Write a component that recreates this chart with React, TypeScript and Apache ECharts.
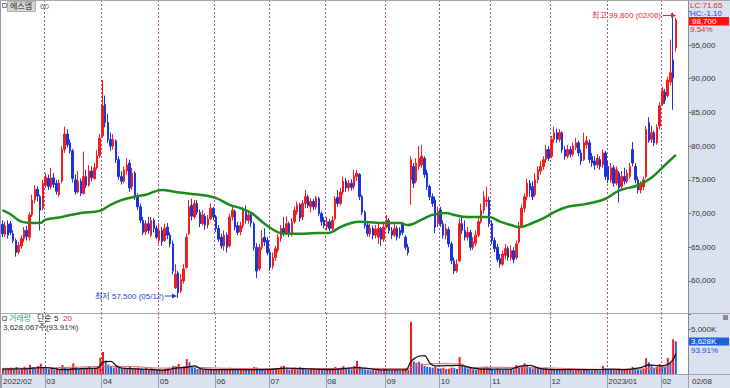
import React, { useEffect, useRef } from "react";
import * as echarts from "echarts";

// ---------- DATA ----------
const monthLabels = ["2022/02", "03", "04", "05", "06", "07", "08", "09", "10", "11", "12", "2023/01", "02"];
const monthDays = [16, 21, 21, 21, 20, 21, 22, 20, 19, 22, 21, 20, 6];
const extraSlots = 4;

// rows: [open, close, low, high] (won)
const feb22 = [
  [68400, 67000, 66500, 69000], [66900, 68200, 66500, 68800], [68400, 66800, 66300, 69000], [68500, 67200, 66800, 68900],
  [67000, 66000, 65600, 67500], [66000, 64200, 63600, 66300], [64300, 65300, 64000, 65800], [65200, 66300, 64800, 66800],
  [66300, 67500, 65800, 68000], [67500, 66600, 66000, 68200], [66500, 69800, 66000, 70200], [69800, 72000, 69500, 72800],
  [72000, 73600, 71500, 74200], [73600, 72600, 71800, 74000], [72500, 70500, 67500, 72800], [70800, 74500, 70500, 75000],
];
const mar22 = [
  [74200, 75400, 73800, 76000], [75200, 74000, 73500, 75800], [74000, 75300, 73600, 76800], [75300, 74300, 73800, 76000],
  [74500, 73300, 72800, 75000], [72800, 74500, 72500, 75000], [74800, 79500, 74500, 80000], [79500, 81800, 79000, 82900],
  [81800, 80200, 79800, 82500], [80500, 79300, 78900, 81000], [79300, 75200, 74600, 79600], [75000, 73200, 72800, 75800],
  [73200, 74800, 73000, 76300], [74800, 73000, 72600, 75200], [73000, 75500, 72800, 79200], [75500, 74200, 73800, 76500],
  [74200, 76300, 74000, 77200], [76300, 75300, 74800, 77000], [75200, 76800, 75000, 77500], [76800, 78600, 76500, 79400],
  [78600, 81200, 78200, 81800],
];
const apr22 = [
  [81500, 86000, 81200, 89800], [86200, 83500, 82800, 87500], [83500, 81000, 80500, 84800], [81000, 80000, 79300, 82000],
  [80000, 81000, 79500, 81800], [80800, 78000, 77500, 81000], [78000, 75500, 75000, 78500], [75500, 74800, 74300, 76300],
  [74800, 76500, 74500, 77000], [76300, 77200, 75800, 78200], [77500, 73800, 73200, 78000], [74000, 76000, 73500, 76800],
  [76000, 72500, 72000, 76300], [72500, 71000, 70500, 73000], [71000, 69000, 68600, 71500], [69000, 67200, 66800, 69500],
  [67300, 68500, 66800, 69000], [68500, 67500, 67000, 69500], [66800, 69000, 66500, 69500], [69000, 67800, 67200, 69300],
  [67800, 66500, 66200, 68200],
];
const may22 = [
  [66000, 67500, 65600, 68600], [67500, 65800, 65200, 68000], [66000, 67800, 65800, 68500], [68000, 66800, 66200, 68600],
  [66800, 65500, 65000, 67200], [65500, 61500, 61000, 66000], [59000, 61000, 58800, 62500], [61200, 58300, 57500, 61500],
  [58500, 60200, 58200, 61000], [60000, 61800, 59600, 62500], [62000, 66500, 61800, 67000], [67000, 71000, 66800, 72000],
  [71200, 69600, 69000, 72200], [69500, 71500, 69200, 72000], [71500, 70200, 69800, 72000], [70200, 68500, 68000, 70600],
  [68500, 69800, 68200, 70500], [69600, 68300, 67600, 70000], [68300, 69200, 67800, 69800], [69200, 70800, 69000, 71500],
  [70800, 69500, 69000, 71000],
];
const jun22 = [
  [69500, 67800, 67300, 69800], [67800, 66200, 65800, 68300], [66500, 65200, 64800, 67000], [65200, 66800, 64500, 67500],
  [66800, 65000, 64200, 67200], [65200, 69500, 65000, 70000], [69500, 70500, 69000, 71200], [70300, 68000, 67500, 70600],
  [68200, 67200, 66800, 68800], [67300, 68200, 66800, 68800], [68200, 70500, 67800, 71000], [70500, 69000, 68500, 71200],
  [69000, 69800, 68500, 70500], [69800, 68600, 68000, 70200], [68500, 65000, 64500, 68800], [65000, 61500, 60400, 65600],
  [61800, 65000, 61500, 65500], [65000, 66300, 64600, 67500], [66500, 65800, 65200, 67800], [66000, 64200, 63800, 66500],
];
const jul22 = [
  [64200, 62000, 61500, 64600], [62200, 63500, 61800, 64200], [63500, 64800, 63000, 65200], [64600, 66500, 64200, 67000],
  [66300, 67800, 65800, 68300], [67800, 67000, 66600, 69500], [67000, 68500, 66800, 69600], [68500, 67000, 66500, 68800],
  [67000, 68800, 66600, 69300], [68800, 70500, 68500, 71000], [70200, 71300, 69800, 71800], [71300, 69300, 68800, 71600],
  [69500, 71500, 69000, 72000], [71500, 72500, 70800, 73500], [72500, 71200, 70800, 72800], [71000, 71800, 70200, 72300],
  [71800, 71000, 70500, 72200], [71000, 72300, 70600, 72600], [72200, 70000, 69600, 72500], [70000, 68800, 68200, 70300],
  [69000, 68200, 67800, 69500],
];
const aug22 = [
  [68000, 68800, 67500, 69500], [68800, 67800, 67400, 69200], [67800, 69000, 67500, 69600], [69200, 72200, 69000, 72600],
  [72400, 71500, 71000, 73500], [71500, 73200, 71200, 73800], [73200, 74800, 72800, 75500], [74800, 73800, 73200, 75300],
  [73800, 74500, 73300, 75000], [74500, 73900, 73400, 75100], [74000, 75600, 73600, 76500], [75500, 76000, 74800, 76500],
  [75800, 72500, 72000, 76000], [72500, 70200, 69800, 72800], [70200, 68200, 67800, 70500], [68300, 67000, 66600, 68600],
  [67000, 67800, 66500, 68500], [67800, 66800, 66200, 68200], [66800, 67700, 66300, 68300], [66500, 67800, 65500, 68500],
  [67800, 66200, 65200, 68000], [66200, 68000, 65800, 68800],
];
const sep22 = [
  [68000, 69000, 67800, 69800], [69000, 67500, 67000, 69300], [67500, 66800, 66200, 68000], [66800, 67800, 66500, 68500],
  [67800, 66500, 66000, 68200], [67500, 66800, 66300, 68000], [68500, 67200, 66800, 68800], [66500, 65000, 64600, 66800],
  [65000, 64200, 63800, 65500], [75000, 78000, 71300, 78500], [77000, 74500, 73800, 77500], [74800, 77500, 74500, 78200],
  [77000, 78200, 76500, 80000], [77200, 78500, 76800, 80200], [78200, 75800, 75300, 78500], [76000, 74000, 73500, 76500],
  [74000, 72500, 72000, 74300], [72500, 71500, 71000, 73000], [72000, 68000, 67100, 72500], [68500, 70300, 68000, 71000],
];
const oct22 = [
  [70500, 68500, 68000, 71000], [68500, 66800, 66300, 69000], [66800, 67800, 66200, 68500], [67600, 65500, 65000, 68000],
  [65500, 63000, 62500, 65800], [63000, 61500, 61000, 63500], [61500, 62500, 61200, 63200], [63000, 68500, 62800, 69300],
  [68500, 67500, 67000, 69500], [67500, 66500, 66000, 69000], [66500, 67200, 66000, 68000], [67200, 65000, 64500, 67600],
  [65000, 65800, 64600, 66500], [65600, 66800, 65200, 67500], [66800, 68800, 66500, 69500], [68800, 70500, 68500, 71500],
  [70500, 72500, 70000, 73300], [71800, 72000, 71000, 74000], [72000, 68500, 68000, 72500],
];
const nov22 = [
  [68500, 66000, 65500, 69000], [66000, 64800, 64300, 66500], [65000, 63200, 62800, 65500], [63300, 62500, 62000, 64000],
  [62500, 64000, 62200, 64500], [63800, 64800, 63200, 65500], [64800, 63500, 63000, 65200], [63500, 64500, 63000, 65300],
  [64500, 63200, 62600, 65000], [63500, 65500, 63200, 66000], [65800, 68000, 65500, 68800], [68000, 70800, 67800, 71300],
  [70800, 72500, 70200, 73000], [72500, 74500, 72000, 75200], [74500, 73500, 72500, 75000], [74000, 72500, 72000, 74800],
  [72800, 75000, 72500, 76000], [75000, 76500, 74500, 77000], [76300, 77000, 75800, 77800], [77000, 78000, 76500, 78500],
  [78000, 79500, 77500, 80200], [79500, 78200, 77800, 80000],
];
const dec22 = [
  [78500, 81000, 78200, 81500], [81000, 82000, 80500, 82900], [82000, 81000, 80500, 82600], [81000, 82000, 80600, 82500],
  [82000, 79500, 79000, 82200], [79500, 78500, 78000, 80000], [78500, 79500, 78200, 80200], [79500, 78800, 78300, 80000],
  [78800, 80000, 78500, 80500], [79800, 80500, 79400, 81200], [80500, 79000, 78500, 80800], [79000, 77800, 77200, 79500],
  [78000, 80500, 77800, 82000], [80200, 80800, 79600, 81500], [80500, 78000, 77500, 81000], [78500, 77500, 76900, 79000],
  [77800, 77200, 76500, 78500], [77200, 78200, 76800, 78800], [78000, 77000, 76500, 78500], [77200, 79000, 76800, 79500],
  [79000, 75500, 75000, 79300],
];
const jan23 = [
  [77000, 75000, 74500, 77800], [75000, 76800, 74600, 77500], [76800, 74500, 74000, 77200], [74500, 76500, 74200, 77000],
  [76000, 73800, 71600, 76300], [74000, 75500, 73500, 76300], [75500, 74800, 74300, 76800], [74800, 76000, 74500, 76500],
  [75500, 77000, 75200, 77500], [79500, 77500, 77000, 80600], [77000, 75000, 74500, 77500], [75000, 73500, 73000, 75500],
  [73500, 74300, 73000, 74800], [74000, 75000, 73500, 75500], [75500, 82500, 75200, 83000], [83500, 80800, 80500, 84300],
  [81000, 82000, 80500, 83000], [82000, 80500, 80000, 82300], [80500, 82800, 80200, 83200], [83000, 86000, 82500, 86500],
];
const feb23 = [
  [86300, 88200, 86000, 88800], [88000, 86800, 86300, 88500], [87500, 89800, 87200, 90300], [89500, 90900, 89000, 95800],
  [92800, 90100, 85400, 99800], [94600, 98700, 94000, 99000],
];

// volume in thousand shares
const volumeK = [
  650, 480, 560, 700, 520, 780, 450, 600, 820, 540, 1000, 760, 640, 880, 1150, 700,
  620, 540, 700, 480, 650, 560, 1000, 720, 580, 640, 1180, 760, 560, 680, 520, 600, 820, 540, 700, 760, 1800,
  2450, 1500, 1050, 880, 720, 900, 650, 580, 700, 620, 800, 560, 650, 720, 600, 540, 680, 500, 620, 560, 480,
  520, 460, 580, 640, 480, 900, 850, 1100, 760, 820, 1650, 1300, 800, 700, 560, 620, 500, 580, 540, 600, 480,
  520, 460, 600, 440, 560, 700, 620, 480, 420, 560, 640, 500, 460, 480, 780, 720, 560, 480, 420, 560,
  600, 420, 520, 650, 850, 900, 560, 480, 620, 700, 540, 760, 680, 520, 480, 560, 600, 440, 520, 480, 420,
  460, 420, 560, 800, 620, 700, 880, 640, 560, 520, 900, 1450, 820, 640, 520, 480, 420, 460, 400, 520, 480, 560,
  520, 440, 400, 460, 420, 380, 440, 520, 480, 5800, 1400, 1250, 1350, 1150, 900, 800, 760, 700, 820, 640,
  620, 700, 560, 600, 720, 680, 560, 1900, 1000, 760, 620, 700, 540, 480, 560, 640, 760, 820, 700,
  560, 480, 600, 520, 460, 540, 480, 560, 500, 1000, 820, 900, 1200, 980, 700, 620, 760, 680, 560, 640, 720, 560,
  620, 560, 480, 440, 520, 460, 400, 440, 380, 420, 460, 400, 560, 480, 420, 380, 440, 400, 360, 900, 640,
  560, 480, 520, 440, 600, 420, 460, 500, 440, 800, 620, 520, 480, 560, 1750, 1300, 880, 700, 820, 1100,
  950, 800, 1800, 1300, 3863, 3628,
];

// 60-day price moving average: [day index, value]
const ma60Points = [
  [0, 70500], [3, 69900], [7, 68800], [11, 68600], [14, 68600], [16, 69100], [22, 69500], [29, 70100], [36, 70400],
  [40, 71300], [44, 72000], [49, 72500], [53, 72800], [59, 73500], [64, 73200], [70, 72900], [73, 72800], [79, 72300],
  [84, 71300], [88, 70800], [92, 70100], [96, 68800], [99, 67900], [103, 67100], [107, 67000], [110, 67000], [116, 67100],
  [120, 67100], [122, 67300], [125, 68000], [129, 68600], [132, 68800], [140, 68600], [147, 68600], [150, 68300],
  [155, 69100], [159, 69800], [164, 70100], [167, 69800], [172, 69500], [177, 69500], [180, 69500], [184, 68800],
  [188, 68300], [191, 68000], [196, 68600], [201, 69500], [204, 70200], [209, 71000], [214, 71300], [218, 71600],
  [223, 72200], [228, 73400], [235, 74200], [240, 75300], [245, 77200], [249, 78700],
];
// volume averages (thousand shares): [day index, value]
const volMa5Points = [
  [0, 550], [7, 560], [14, 700], [16, 700], [22, 500], [29, 600], [35, 650], [37, 1300], [40, 1400], [42, 900], [44, 650],
  [55, 500], [59, 420], [64, 650], [68, 750], [71, 900], [73, 600], [79, 480], [88, 480], [99, 520], [105, 650],
  [121, 500], [131, 700], [134, 650], [140, 450], [149, 450], [151, 1400], [154, 2000], [156, 2050], [158, 1200],
  [160, 900], [169, 950], [173, 700], [177, 550], [188, 550], [191, 850], [195, 950], [199, 600], [206, 480],
  [221, 480], [225, 550], [230, 480], [236, 700], [239, 1000], [243, 900], [246, 1050], [248, 1600], [249, 2280],
];
const volMa20Points = [
  [0, 620], [20, 700], [40, 850], [50, 800], [58, 650], [70, 750], [80, 650], [100, 580], [120, 600], [140, 620],
  [150, 600], [152, 850], [160, 1150], [170, 1080], [172, 720], [180, 750], [195, 700], [205, 650], [220, 520],
  [235, 560], [245, 750], [249, 1100],
];

const lastVolumeText = "3,628,067주(93.91%)";

// ---------- CHART ----------
const FONT = "'Liberation Sans', 'Noto Sans CJK KR', sans-serif";
const UP = "#f41c1c";
const DOWN = "#1b34dc";
const MONTH_LINE = "#a0549a";
const PANEL_BG = "#d9e2ee";

export default function App() {
  const ref = useRef<HTMLDivElement>(null);

  useEffect(() => {
    if (!ref.current) return;
    const chart = echarts.init(ref.current, undefined, { renderer: "svg" });

    const candles = [...feb22, ...mar22, ...apr22, ...may22, ...jun22, ...jul22, ...aug22, ...sep22, ...oct22, ...nov22, ...dec22, ...jan23, ...feb23];
    const categories: string[] = [];
    const labelByIndex: Record<number, string> = {};
    const monthStart = new Set<number>();
    let idx = 0;
    monthDays.forEach((n, m) => {
      monthStart.add(idx);
      labelByIndex[idx] = monthLabels[m];
      for (let d = 0; d < n; d++) categories.push(String(idx++));
    });
    for (let k = 0; k < extraSlots; k++) categories.push(String(idx++));
    const isMonthLine = (i: number) => i > 0 && monthStart.has(i);

    const splitLine = { show: true, interval: (i: number) => isMonthLine(i), lineStyle: { color: MONTH_LINE, type: [2, 2], width: 1 } };
    const txt = (x: number, y: number, text: string, fill: string, extra: any = {}) => ({
      type: "text", x, y, z: 20, silent: true,
      style: { text, fill, font: `8px ${FONT}`, textAlign: "left", textVerticalAlign: "middle", ...extra },
    });

    const option: any = {
      animation: false,
      backgroundColor: "#ffffff",
      grid: [
        { left: 1, top: 0, width: 687, height: 314.7 },
        { left: 1, top: 313, width: 687, height: 61 },
      ],
      xAxis: [
        { type: "category", gridIndex: 0, data: categories, boundaryGap: true, axisLine: { show: false }, axisTick: { show: false }, axisLabel: { show: false }, splitLine },
        {
          type: "category", gridIndex: 1, data: categories, boundaryGap: true,
          axisLine: { show: true, lineStyle: { color: "#9aa3b2" } },
          axisTick: { show: true, interval: (i: number) => monthStart.has(i), length: 14, lineStyle: { color: "#9aa3b2" } },
          axisLabel: { show: true, interval: (i: number) => monthStart.has(i), formatter: (_v: string, i: number) => labelByIndex[i] ?? "", align: "left", color: "#333", fontSize: 8, fontFamily: FONT, margin: 3 },
          splitLine,
        },
      ],
      yAxis: [
        {
          type: "value", gridIndex: 0, position: "right", min: 55000, max: 101678, interval: 5000,
          axisLine: { show: true, lineStyle: { color: "#8a8a8a" } },
          axisTick: { show: true, length: 3, lineStyle: { color: "#777" } },
          splitLine: { show: false },
          axisLabel: { color: "#333", fontSize: 8, fontFamily: FONT, margin: 3, formatter: (v: number) => (v >= 100000 || v <= 55000 ? "" : v.toLocaleString("en-US")) },
        },
        {
          type: "value", gridIndex: 1, position: "right", min: 0, max: 6778, interval: 5000,
          axisLine: { show: true, lineStyle: { color: "#8a8a8a" } },
          axisTick: { show: true, length: 3, lineStyle: { color: "#777" } },
          splitLine: { show: false },
          axisLabel: { color: "#333", fontSize: 8, fontFamily: FONT, margin: 3, formatter: (v: number) => (v === 5000 ? "5,000K" : "") },
        },
      ],
      series: [
        {
          type: "candlestick", xAxisIndex: 0, yAxisIndex: 0, data: candles, barWidth: 2,
          itemStyle: { color: UP, color0: DOWN, borderColor: UP, borderColor0: DOWN, borderWidth: 1 },
        },
        {
          type: "line", xAxisIndex: 0, yAxisIndex: 0, data: ma60Points, smooth: 0.4, showSymbol: false, z: 4,
          lineStyle: { color: "#1d8c1d", width: 2.5 },
        },
        {
          type: "bar", xAxisIndex: 1, yAxisIndex: 1, barWidth: 2,
          data: volumeK.map((v, i) => ({ value: v, itemStyle: { color: i > 0 && v < volumeK[i - 1] ? "#2a5fd8" : UP } })),
        },
        { type: "line", xAxisIndex: 1, yAxisIndex: 1, data: volMa20Points, smooth: 0.3, showSymbol: false, z: 4, lineStyle: { color: "#e06868", width: 1 } },
        { type: "line", xAxisIndex: 1, yAxisIndex: 1, data: volMa5Points, smooth: 0.3, showSymbol: false, z: 5, lineStyle: { color: "#111", width: 1.3 } },
      ],
      graphic: [
        { type: "rect", z: -10, silent: true, shape: { x: 688, y: 0, width: 42, height: 388 }, style: { fill: PANEL_BG } },
        { type: "rect", z: -10, silent: true, shape: { x: 0, y: 374, width: 730, height: 14 }, style: { fill: PANEL_BG } },
        { type: "line", z: 15, silent: true, shape: { x1: 0.5, y1: 0, x2: 0.5, y2: 388 }, style: { stroke: "#9a9a9a", lineWidth: 1 } },
        { type: "line", z: 15, silent: true, shape: { x1: 0, y1: 0.5, x2: 730, y2: 0.5 }, style: { stroke: "#a8a8a8", lineWidth: 1 } },
        { type: "line", z: 15, silent: true, shape: { x1: 0, y1: 313.5, x2: 730, y2: 313.5 }, style: { stroke: "#a8a8a8", lineWidth: 1 } },
        { type: "line", z: 15, silent: true, shape: { x1: 688, y1: 374.5, x2: 730, y2: 374.5 }, style: { stroke: "#9aa3b2", lineWidth: 1 } },
        { type: "line", z: 15, silent: true, shape: { x1: 688.5, y1: 374, x2: 688.5, y2: 388 }, style: { stroke: "#9aa3b2", lineWidth: 1 } },
        // top-left legend
        { type: "rect", z: 20, silent: true, shape: { x: 2.5, y: 3.5, width: 4, height: 4 }, style: { fill: "#eeeeee", stroke: "#888", lineWidth: 1 } },
        { type: "rect", z: 20, silent: true, shape: { x: 7.5, y: 1.5, width: 28, height: 10 }, style: { fill: "#d6d6d6", stroke: "#b0b0b0", lineWidth: 1 } },
        txt(10, 6.8, "에스엠", "#222"),
        txt(40, 6.8, "60", "#3a9a3a"),
        // top-right values
        txt(690, 5, "LC:71.65", "#e02a2a"),
        txt(690, 13, "HC:-1.10", "#2a3ad0"),
        { type: "rect", z: 20, silent: true, shape: { x: 689, y: 17, width: 40, height: 8.5 }, style: { fill: "#ff1010" } },
        txt(692, 21.4, "98,700", "#ffffff"),
        txt(690, 29.5, "9.54%", "#e02a2a"),
        // max / min annotations
        txt(661, 15.5, "최고 99,800 (02/06)", "#e02a2a", { textAlign: "right" }),
        { type: "line", z: 20, silent: true, shape: { x1: 663, y1: 15.5, x2: 672, y2: 15.5 }, style: { stroke: "#e02a2a", lineWidth: 1 } },
        { type: "polygon", z: 20, silent: true, shape: { points: [[671, 13], [676, 15.5], [671, 18]] }, style: { fill: "#e02a2a" } },
        txt(95, 296, "최저 57,500 (05/12)", "#2a3ad0"),
        { type: "line", z: 20, silent: true, shape: { x1: 165, y1: 296, x2: 173, y2: 296 }, style: { stroke: "#2a3ad0", lineWidth: 1 } },
        { type: "polygon", z: 20, silent: true, shape: { points: [[172, 293.5], [177, 296], [172, 298.5]] }, style: { fill: "#2a3ad0" } },
        // volume legend
        { type: "rect", z: 20, silent: true, shape: { x: 2.5, y: 316.5, width: 4, height: 4 }, style: { fill: "#eeeeee", stroke: "#888", lineWidth: 1 } },
        txt(9, 318.5, "거래량", "#3aa0a0"),
        txt(37, 318.5, "단순 5", "#222"),
        txt(63, 318.5, "20", "#e02a2a"),
        txt(3, 327.5, lastVolumeText, "#333"),
        // volume axis extras
        { type: "rect", z: 20, silent: true, shape: { x: 723, y: 315, width: 5, height: 5 }, style: { fill: "#8a8a8a" } },
        { type: "rect", z: 20, silent: true, shape: { x: 689, y: 337.5, width: 40, height: 8 }, style: { fill: "#1f5fdc" } },
        txt(691, 341.5, "3,628K", "#ffffff"),
        txt(691, 350.5, "93.91%", "#2a4ad8"),
        txt(692, 381, "02/08", "#333"),
      ],
    };

    chart.setOption(option);
    return () => chart.dispose();
  }, []);

  return <div ref={ref} style={{ position: "fixed", left: 0, top: 0, width: 730, height: 388 }} />;
}
